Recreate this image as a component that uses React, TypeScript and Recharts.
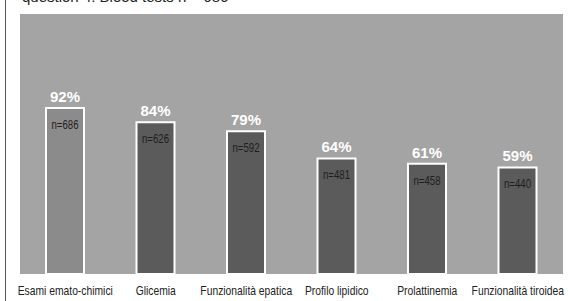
import { BarChart, Bar, XAxis, YAxis, CartesianGrid, Cell, LabelList } from "recharts";

const categories = [
  "Esami emato-chimici",
  "Glicemia",
  "Funzionalità epatica",
  "Profilo lipidico",
  "Prolattinemia",
  "Funzionalità tiroidea",
];
const percents = [92, 84, 79, 64, 61, 59];
const counts = [686, 626, 592, 481, 458, 440];
const barColors = ["#8b8b8b", "#5b5b5b", "#5b5b5b", "#5b5b5b", "#5b5b5b", "#5b5b5b"];

const data = categories.map((name, i) => ({ name, pct: percents[i], n: counts[i] }));

const sans = "'Liberation Sans', Arial, sans-serif";

const CategoryTick = (props: any) => {
  const { x, y, payload } = props;
  return (
    <g transform={`translate(${x},${y + 13}) scale(0.86,1)`}>
      <text x={0} y={0} textAnchor="middle" fontSize={12} fill="#222" fontFamily={sans}>
        {payload.value}
      </text>
    </g>
  );
};

const CountLabel = (props: any) => {
  const { x, y, width, value } = props;
  return (
    <g transform={`translate(${x + width / 2},${y + 21}) scale(0.8,1)`}>
      <text x={0} y={0} textAnchor="middle" fontSize={12} fill="#1e1e1e" fontFamily={sans}>
        {`n=${value}`}
      </text>
    </g>
  );
};

const PctLabel = (props: any) => {
  const { x, y, width, value } = props;
  return (
    <text
      x={x + width / 2}
      y={y - 6}
      textAnchor="middle"
      fontSize={15}
      fontWeight="bold"
      fill="#ffffff"
      fontFamily={sans}
    >
      {`${value}%`}
    </text>
  );
};

export default function App() {
  return (
    <div style={{ position: "absolute", left: 0, top: 0, width: 570, height: 301, background: "#fff", overflow: "hidden" }}>
      <div
        style={{
          position: "absolute",
          left: 5,
          top: 0,
          width: 1,
          height: 301,
          background: "#555",
        }}
      />
      <div
        style={{
          position: "absolute",
          left: 22,
          top: -12,
          fontSize: 15,
          fontFamily: sans,
          color: "#222",
          whiteSpace: "nowrap",
        }}
      >
        question 4. Blood tests n = 686
      </div>
      <BarChart
        width={570}
        height={301}
        data={data}
        margin={{ top: 14, right: 7, left: 20, bottom: 0 }}
        barCategoryGap={0}
      >
        <CartesianGrid fill="#a4a4a4" horizontal={false} vertical={false} stroke="none" />
        <XAxis
          dataKey="name"
          axisLine={false}
          tickLine={false}
          interval={0}
          height={27}
          tick={<CategoryTick />}
        />
        <YAxis hide domain={[0, 144]} />
        <Bar dataKey="pct" barSize={38} stroke="#ffffff" strokeWidth={2} isAnimationActive={false}>
          {data.map((d, i) => (
            <Cell key={d.name} fill={barColors[i]} />
          ))}
          <LabelList dataKey="pct" content={<PctLabel />} />
          <LabelList dataKey="n" content={<CountLabel />} />
        </Bar>
      </BarChart>
    </div>
  );
}
